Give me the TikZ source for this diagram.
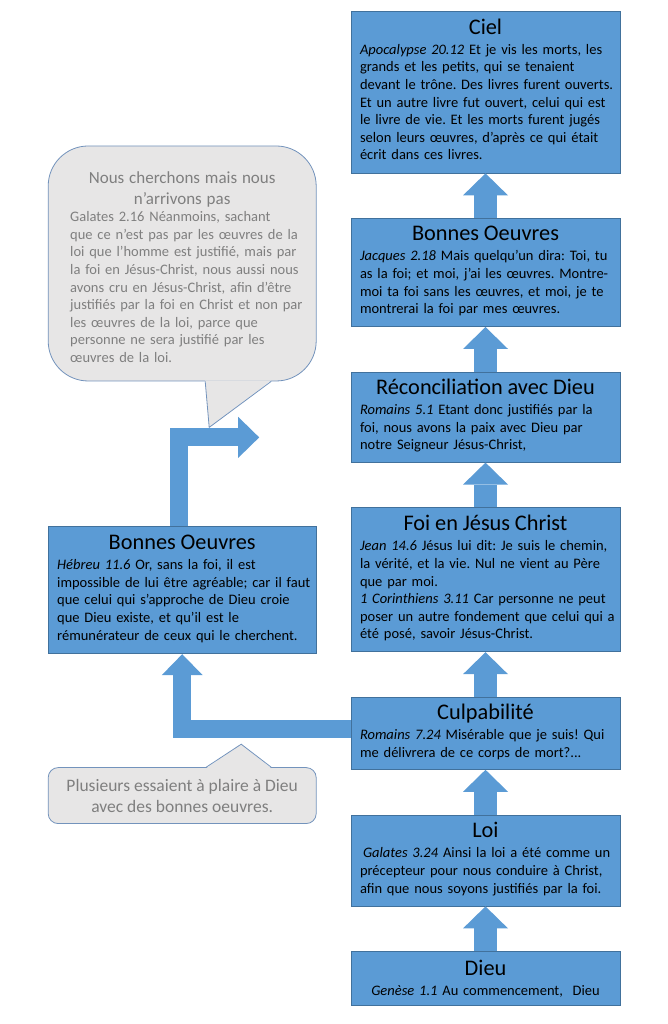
\documentclass[tikz,border=0pt]{standalone}
\usepackage{fontspec}
\setmainfont{Carlito}
\usepackage{xcolor}
\usetikzlibrary{arrows.meta,positioning,calc}
\definecolor{boxfill}{HTML}{5B9BD5}
\definecolor{boxline}{HTML}{41719C}
\definecolor{bullefill}{HTML}{E7E6E6}
\definecolor{bulleline}{HTML}{7393BC}
\definecolor{bulletext}{HTML}{7F7F7F}
\newcommand{\titre}[1]{{\centering\fontsize{22.3}{26}\selectfont #1\par}\vspace{2.5pt}}
\newcommand{\verset}[1]{\textit{#1}}
\newcommand{\corps}[1]{\begin{tabular}[t]{@{\hspace{4pt}}l@{}}#1\end{tabular}}
\setlength{\parindent}{0pt}
\frenchspacing

\begin{document}
\begin{tikzpicture}[x=1pt, y=1pt, node distance=44.8pt and 34pt, every node/.style={font=\fontsize{14.5}{17.6}\selectfont}, box/.style={draw=boxline, line width=0.8pt, fill=boxfill, align=left, text width=259pt, inner xsep=5pt, inner ysep=0.5pt}, bulle/.style={draw=bulleline, line width=0.8pt, fill=bullefill, text=bulletext, inner ysep=3pt}, colarrow/.style={draw=boxfill, line width=23pt, -{Triangle[length=22pt, width=45pt, line width=0pt]}}, sidearrow/.style={draw=boxfill, line width=18pt, -{Triangle[length=21pt, width=41pt, line width=0pt]}}]
\useasboundingbox (0,0) rectangle (668,1024);
% colonne de droite
\node[box, minimum height=54pt, anchor=south] (dieu) at (485.5,18) {\titre{Dieu}{\centering\verset{Genèse 1.1} Au commencement,\ \ Dieu\par}};
\node[box, minimum height=91pt, above=of dieu] (loi) {\titre{Loi}\corps{\hspace*{3pt}\verset{Galates 3.24} Ainsi la loi a été comme un\\précepteur pour nous conduire à Christ,\\afin que nous soyons justifiés par la foi.}};
\node[box, minimum height=72pt, above=of loi] (culp) {\titre{Culpabilité}\corps{\verset{Romains 7.24} Misérable que je suis! Qui\\me délivrera de ce corps de mort?...}};
\node[box, minimum height=144pt, above=of culp] (foi) {\titre{Foi en Jésus Christ}\corps{\verset{Jean 14.6} Jésus lui dit: Je suis le chemin,\\la vérité, et la vie. Nul ne vient au Père\\que par moi.\\\verset{1 Corinthiens 3.11} Car personne ne peut\\poser un autre fondement que celui qui a\\été posé, savoir Jésus-Christ.}};
\node[box, minimum height=90pt, above=of foi] (recon) {\titre{Réconciliation avec Dieu}\corps{\verset{Romains 5.1} Etant donc justifiés par la\\foi, nous avons la paix avec Dieu par\\notre Seigneur Jésus-Christ,}};
\node[box, minimum height=108pt, above=of recon] (bonnes) {\titre{Bonnes Oeuvres}\corps{\verset{Jacques 2.18} Mais quelqu’un dira: Toi, tu\\as la foi; et moi, j’ai les œuvres. Montre-\\moi ta foi sans les œuvres, et moi, je te\\montrerai la foi par mes œuvres.}};
\node[box, minimum height=162pt, above=of bonnes] (ciel) {\titre{Ciel}\corps{\verset{Apocalypse 20.12} Et je vis les morts, les\\grands et les petits, qui se tenaient\\devant le trône. Des livres furent ouverts.\\Et un autre livre fut ouvert, celui qui est\\le livre de vie. Et les morts furent jugés\\selon leurs œuvres, d’après ce qui était\\écrit dans ces livres.}};
% colonne de gauche
\node[box, text width=258pt, minimum height=127pt, left=34pt of foi, yshift=-10.5pt] (oeuvres) {\titre{Bonnes Oeuvres}\corps{\verset{Hébreu 11.6} Or, sans la foi, il est\\impossible de lui être agréable; car il faut\\que celui qui s’approche de Dieu croie\\que Dieu existe, et qu’il est le\\rémunérateur de ceux qui le cherchent.}};
\node[bulle, align=left, text width=232pt, inner xsep=18pt, minimum height=235pt, rounded corners=40pt, above=145pt of oeuvres] (nuage) {{\centering\fontsize{17}{21}\selectfont Nous cherchons mais nous\\n’arrivons pas\par}\corps{Galates 2.16 Néanmoins, sachant\\que ce n’est pas par les œuvres de la\\loi que l’homme est justifié, mais par\\la foi en Jésus-Christ, nous aussi nous\\avons cru en Jésus-Christ, afin d’être\\justifiés par la foi en Christ et non par\\les œuvres de la loi, parce que\\personne ne sera justifié par les\\œuvres de la loi.}\par\vspace{-12pt}};
\node[bulle, align=center, font=\fontsize{17.5}{21}\selectfont, minimum width=268pt, minimum height=56pt, rounded corners=10pt, below=113pt of oeuvres] (remarque) {Plusieurs essaient à plaire à Dieu\\avec des bonnes oeuvres.};
% pointes des bulles
\coordinate (n1) at ($(nuage.south)+(23,0)$);
\coordinate (n2) at ($(nuage.south)+(89,0)$);
\coordinate (npointe) at ($(nuage.south)+(27,-46)$);
\fill[bullefill] ($(n1)+(0,1)$) -- (npointe) -- ($(n2)+(0,1)$) -- cycle;
\draw[bulleline, line width=0.8pt] (n1) -- (npointe) -- (n2);
\coordinate (r1) at ($(remarque.north)+(24,0)$);
\coordinate (r2) at ($(remarque.north)+(89,0)$);
\coordinate (rpointe) at ($(remarque.north)+(59,23)$);
\fill[bullefill] ($(r1)+(0,-1)$) -- (rpointe) -- ($(r2)+(0,-1)$) -- cycle;
\draw[bulleline, line width=0.8pt] (r1) -- (rpointe) -- (r2);
% fleches
\draw[colarrow] (dieu) -- (loi);
\draw[colarrow] (loi) -- (culp);
\draw[colarrow] (culp) -- (foi);
\draw[colarrow] (foi) -- (recon);
\draw[colarrow] (recon) -- (bonnes);
\draw[colarrow] (bonnes) -- (ciel);
\draw[sidearrow] ($(culp.west)+(0,4.5)$) -| (oeuvres.south);
\coordinate (sortie) at ($(oeuvres.north)+(77,89)$);
\draw[sidearrow] ($(oeuvres.north)+(-3,0)$) |- (sortie);
\end{tikzpicture}
\end{document}
